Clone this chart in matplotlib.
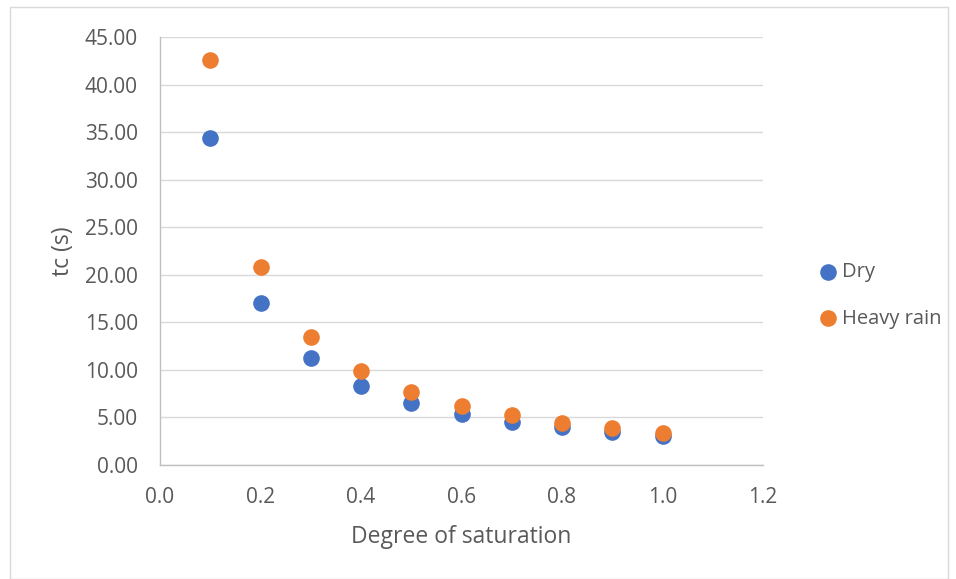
import matplotlib.pyplot as plt
from matplotlib.patches import Rectangle

# values
saturation = [0.1, 0.2, 0.3, 0.4, 0.5, 0.6, 0.7, 0.8, 0.9, 1.0]
tc_dry = [34.42, 17.02, 11.20, 8.30, 6.56, 5.35, 4.52, 3.96, 3.47, 3.05]
tc_heavy_rain = [42.54, 20.87, 13.48, 9.90, 7.72, 6.25, 5.22, 4.45, 3.85, 3.40]

x_ticks = [0.0, 0.2, 0.4, 0.6, 0.8, 1.0, 1.2]
y_ticks = [0, 5, 10, 15, 20, 25, 30, 35, 40, 45]

plt.rcParams['font.family'] = ['Open Sans', 'DejaVu Sans']

W, H = 956, 579
fig = plt.figure(figsize=(W / 100, H / 100), dpi=100)

# plot area in pixels: x 160..763, y 37..465
ax = fig.add_axes([160 / W, 1 - 465 / H, (763 - 160) / W, (465 - 37) / H])

# outer chart border
fig.patches.append(Rectangle((10 / W, 0), (948 - 10) / W, 1 - 7 / H,
                             transform=fig.transFigure, fill=False,
                             edgecolor='#d9d9d9', linewidth=1))

ax.scatter(saturation, tc_dry, s=120, color='#4472C4', label='Dry', zorder=3)
ax.scatter(saturation, tc_heavy_rain, s=120, color='#ED7D31', label='Heavy rain', zorder=3)

ax.set_xlim(0, 1.2)
ax.set_ylim(0, 45)
ax.set_xticks(x_ticks)
ax.set_xticklabels([f'{v:.1f}' for v in x_ticks])
ax.set_yticks(y_ticks)
ax.set_yticklabels([f'{v:.2f}' for v in y_ticks])

ax.grid(axis='y', color='#d9d9d9', linewidth=1)
ax.set_axisbelow(True)
for side in ['top', 'right']:
    ax.spines[side].set_visible(False)
for side in ['left', 'bottom']:
    ax.spines[side].set_color('#bfbfbf')
    ax.spines[side].set_linewidth(1)

ax.tick_params(length=0, labelsize=15, colors='#595959')
ax.tick_params(axis='y', pad=16)
ax.tick_params(axis='x', pad=16)
ax.set_xlabel('Degree of saturation', fontsize=16.5, color='#595959')
ax.set_ylabel('tc (s)', fontsize=16.5, color='#595959')
ax.xaxis.set_label_coords((461 - 160) / 603, (465 - 525) / 428)
ax.yaxis.set_label_coords((75 - 160) / 603, 0.5)

ax.legend(loc='center left', bbox_to_anchor=(800 / W, 1 - 295.5 / H),
          bbox_transform=fig.transFigure, frameon=False, fontsize=14.5,
          labelspacing=1.3, handlelength=1.0, handletextpad=0.2,
          labelcolor='#595959')

fig.savefig('out.png', dpi=100)
